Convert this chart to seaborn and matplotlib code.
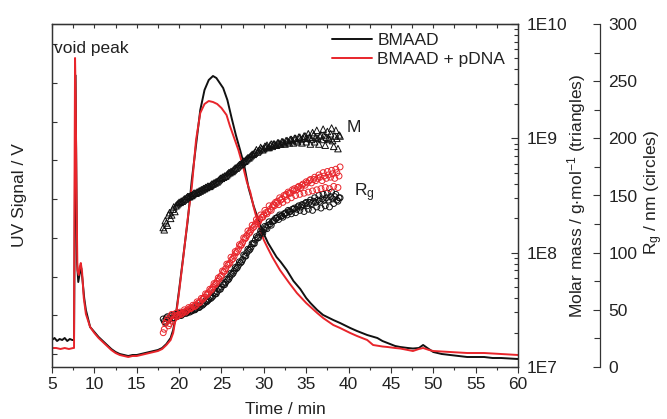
import numpy as np
import pandas as pd
import matplotlib
matplotlib.use("Agg")
import matplotlib.pyplot as plt
import seaborn as sns
from matplotlib.ticker import MultipleLocator, FixedLocator, FuncFormatter, LogLocator, NullFormatter

# ---------------- data ----------------
# UV signal (arbitrary units), BMAAD
uv_black_t = [5.0, 5.3, 5.6, 5.9, 6.2, 6.5, 6.8, 7.1, 7.4, 7.6, 7.7, 7.75, 7.85, 7.95, 8.1, 8.3, 8.45,
              8.6, 8.8, 9.0, 9.5, 10.0, 10.5, 11.0, 11.5, 12.0, 12.5, 13.0, 13.5, 14.0, 14.5, 15.0,
              15.5, 16.0, 16.5, 17.0, 17.5, 18.0, 18.5, 19.0, 19.3, 19.6, 20.0, 20.5, 21.0, 21.5,
              22.0, 22.5, 23.0, 23.5, 24.0, 24.4, 24.8, 25.2, 25.7, 26.2, 26.7, 27.2, 27.7, 28.2,
              28.8, 29.4, 30.0, 30.5, 31.0, 31.5, 32.0, 32.7, 33.5, 34.3, 35.0, 35.5, 36.3, 37.0,
              38.2, 39.0, 40.2, 41.0, 42.2, 43.0, 43.4, 44.0, 44.6, 45.5, 46.1, 47.0, 47.6, 48.3,
              48.8, 49.3, 50.0, 51.0, 52.0, 53.0, 54.0, 55.0, 56.0, 57.0, 58.0, 59.0, 60.0]
uv_black = [14, 16, 13, 15, 14, 16, 13, 15, 14, 14, 154, 279, 204, 92, 72, 82, 86,
            74, 56, 44, 27, 22, 17, 13, 9, 5, 2, 0, -1, -2, -1, -1,
            0, 1, 2, 3, 4, 6, 10, 16, 24, 38, 64, 98, 132, 174,
            209, 244, 264, 274, 278, 276, 271, 266, 254, 236, 219, 204, 188, 166,
            148, 133, 120, 111, 104, 97, 92, 84, 73, 65, 56, 51, 44, 39,
            34, 31, 26, 23, 19, 17, 16, 13, 11, 8, 7, 6, 5.5, 6,
            9, 6, 2, 0, -1, -2, -3, -3, -3, -4, -4, -4.5, -5]

# UV signal, BMAAD + pDNA
uv_red_t = [5.0, 5.5, 6.0, 6.5, 7.0, 7.5, 7.6, 7.65, 7.72, 7.8, 7.9, 8.0, 8.15, 8.3, 8.4, 8.55,
            8.75, 9.0, 9.5, 10.0, 10.5, 11.0, 11.5, 12.0, 12.5, 13.0, 13.5, 14.0, 14.5, 15.0,
            15.5, 16.0, 16.5, 17.0, 17.5, 18.0, 18.5, 19.0, 19.3, 19.6, 20.0, 20.5, 21.0, 21.5,
            22.0, 22.5, 23.0, 23.5, 24.0, 24.5, 25.0, 25.6, 26.0, 26.5, 27.0, 27.5, 28.0, 28.4,
            28.8, 29.4, 30.0, 30.4, 31.0, 31.9, 33.0, 33.9, 35.0, 36.3, 37.0, 38.2, 39.0, 40.2,
            41.0, 42.2, 42.9, 44.0, 44.6, 45.5, 46.1, 47.0, 47.6, 48.3, 48.8, 49.5, 50.0, 51.0,
            52.0, 54.0, 56.0, 58.0, 60.0]
uv_red = [6, 6, 5, 6, 5, 6, 6, 154, 296, 254, 154, 84, 79, 88, 91, 82,
          56, 40, 27, 21, 16, 12, 8, 4, 1, -1, -2, -3, -2, -2,
          -1, 0, 1, 2, 3, 5, 9, 14, 21, 36, 62, 97, 134, 167,
          214, 241, 250, 253, 252, 250, 246, 239, 228, 216, 204, 189, 172, 162,
          147, 128, 114, 107, 97, 84, 71, 61, 51, 41, 36, 29, 26, 21,
          18, 14, 9, 7.5, 7, 6, 5.5, 4, 3, 5, 6, 4, 3, 2.5,
          2, 1, 1, 0, -1]

# light-scattering results (elution time in min), two interleaved read-outs
ls_t = [18.25, 18.5, 18.75, 19.0, 19.25, 19.5, 19.75, 20.0, 20.25, 20.5, 20.75, 21.0,
        21.25, 21.5, 21.75, 22.0, 22.25, 22.5, 22.75, 23.0, 23.25, 23.5, 23.75, 24.0,
        24.25, 24.5, 24.75, 25.0, 25.25, 25.5, 25.75, 26.0, 26.25, 26.5, 26.75, 27.0,
        27.25, 27.5, 27.75, 28.0, 28.25, 28.5, 28.75, 29.0, 29.25, 29.5, 29.75, 30.0,
        30.25, 30.5, 30.75, 31.0, 31.25, 31.5, 31.75, 32.0, 32.25, 32.5, 32.75, 33.0,
        33.25, 33.5, 33.75, 34.0, 34.25, 34.5, 34.75, 35.0, 35.25, 35.5, 35.75, 36.0,
        36.25, 36.5, 36.75, 37.0, 37.25, 37.5, 37.75, 38.0, 38.25, 38.5, 38.75, 39.0]
ls_t2 = [18.125, 18.375, 18.625, 18.875, 19.125, 19.375, 19.625, 19.875, 20.125, 20.375,
         20.625, 20.875, 21.125, 21.375, 21.625, 21.875, 22.125, 22.375, 22.625, 22.875,
         23.125, 23.375, 23.625, 23.875, 24.125, 24.375, 24.625, 24.875, 25.125, 25.375,
         25.625, 25.875, 26.125, 26.375, 26.625, 26.875, 27.125, 27.375, 27.625, 27.875,
         28.125, 28.375, 28.625, 28.875, 29.125, 29.375, 29.625, 29.875, 30.125, 30.375,
         30.625, 30.875, 31.125, 31.375, 31.625, 31.875, 32.125, 32.375, 32.625, 32.875,
         33.125, 33.375, 33.625, 33.875, 34.125, 34.375, 34.625, 34.875, 35.125, 35.375,
         35.625, 35.875, 36.125, 36.375, 36.625, 36.875, 37.125, 37.375, 37.625, 37.875,
         38.125, 38.375, 38.625, 38.875]

# log10 of molar mass, BMAAD (triangles)
logM_black = [8.20, 8.26, 8.33, 8.30, 8.38, 8.36, 8.42, 8.44, 8.45, 8.46, 8.47, 8.49,
              8.49, 8.50, 8.52, 8.52, 8.53, 8.54, 8.55, 8.56, 8.57, 8.58, 8.59, 8.60,
              8.61, 8.62, 8.64, 8.65, 8.66, 8.67, 8.69, 8.70, 8.71, 8.73, 8.74, 8.76,
              8.77, 8.79, 8.80, 8.82, 8.83, 8.85, 8.86, 8.88, 8.88, 8.90, 8.91, 8.91,
              8.93, 8.92, 8.94, 8.93, 8.95, 8.94, 8.96, 8.95, 8.97, 8.95, 8.98, 8.96,
              8.99, 8.96, 9.00, 8.97, 9.01, 8.96, 9.02, 8.97, 9.04, 8.95, 9.05, 8.97,
              9.07, 8.95, 9.03, 9.08, 8.94, 9.06, 8.99, 9.09, 8.93, 9.07, 8.91, 9.02]
logM_black2 = [8.22, 8.28, 8.24, 8.35, 8.33, 8.40, 8.41, 8.43, 8.44, 8.45,
               8.47, 8.48, 8.49, 8.50, 8.51, 8.52, 8.53, 8.54, 8.55, 8.56,
               8.57, 8.58, 8.58, 8.60, 8.61, 8.62, 8.63, 8.65, 8.66, 8.67,
               8.68, 8.70, 8.71, 8.72, 8.74, 8.75, 8.77, 8.78, 8.80, 8.81,
               8.83, 8.84, 8.86, 8.87, 8.90, 8.89, 8.92, 8.90, 8.93, 8.94,
               8.92, 8.95, 8.95, 8.94, 8.96, 8.95, 8.97, 8.96, 8.98, 8.97,
               8.99, 8.98, 9.00, 8.98, 9.01, 8.99, 9.00, 9.02, 9.00, 9.01,
               8.99, 9.03, 9.01, 9.00, 9.02, 8.99, 9.03, 9.01, 9.00, 9.04,
               8.98, 9.02, 9.00, 9.03]

# radius of gyration / nm (circles)
rg_black = [40, 43, 41, 44, 43, 45, 44, 46, 45, 47, 47, 48,
            48, 49, 50, 51, 52, 53, 54, 56, 57, 59, 60, 62,
            64, 66, 68, 70, 72, 74, 76, 79, 81, 84, 86, 89,
            91, 94, 97, 100, 102, 105, 108, 111, 113, 116, 118, 120,
            122, 124, 125, 127, 128, 130, 129, 132, 131, 134, 133, 136,
            134, 138, 135, 140, 137, 142, 136, 144, 138, 146, 137, 148,
            140, 150, 139, 151, 141, 152, 140, 153, 143, 151, 145, 148]
rg_black2 = [42, 39, 44, 42, 45, 43, 46, 45, 47, 46,
             48, 47, 49, 49, 51, 50, 53, 52, 55, 55,
             58, 58, 61, 61, 65, 64, 69, 68, 73, 72,
             77, 77, 82, 82, 87, 87, 92, 92, 98, 97,
             103, 103, 108, 108, 114, 113, 119, 117, 123, 121,
             127, 124, 128, 130, 131, 133, 132, 134, 135, 137,
             136, 138, 139, 138, 141, 140, 142, 143, 141, 144,
             143, 145, 144, 146, 145, 147, 146, 148, 146, 149,
             147, 149, 146, 148]
rg_red = [33, 40, 36, 44, 40, 45, 44, 46, 46, 48, 48, 50,
          51, 52, 53, 54, 56, 57, 59, 61, 63, 65, 67, 70,
          72, 75, 77, 80, 83, 86, 89, 91, 94, 97, 100, 103,
          106, 109, 112, 115, 117, 120, 122, 125, 127, 129, 131, 133,
          135, 136, 138, 140, 141, 143, 142, 146, 144, 149, 146, 152,
          148, 154, 150, 157, 151, 159, 152, 162, 153, 164, 154, 166,
          155, 168, 156, 170, 157, 171, 156, 172, 158, 173, 157, 175]
rg_red2 = [30, 38, 42, 38, 46, 42, 47, 45, 48, 47,
           50, 49, 52, 51, 54, 53, 57, 56, 60, 60,
           64, 64, 68, 68, 73, 73, 78, 79, 84, 84,
           90, 90, 96, 95, 101, 101, 107, 107, 113, 113,
           119, 118, 124, 123, 129, 127, 133, 131, 137, 134,
           141, 137, 142, 144, 145, 148, 147, 150, 151, 153,
           152, 155, 156, 155, 158, 157, 160, 159, 161, 163,
           161, 164, 163, 165, 166, 163, 167, 165, 168, 166,
           169, 165, 170, 167]

x_ticks = [5, 10, 15, 20, 25, 30, 35, 40, 45, 50, 55, 60]
mass_ticks = [1e7, 1e8, 1e9, 1e10]
mass_labels = ["1E7", "1E8", "1E9", "1E10"]
rg_ticks = [0, 50, 100, 150, 200, 250, 300]
series_names = ["BMAAD", "BMAAD + pDNA"]

# ---------------- style ----------------
sns.set_style("ticks")
plt.rcParams["font.family"] = ["Liberation Sans", "DejaVu Sans"]
plt.rcParams["mathtext.default"] = "regular"
FS = 12.5
TXT = "#222222"
SPINE = "#333333"
BLACK = "#111111"
RED = "#e8252b"

fig = plt.figure(figsize=(6.67, 4.19), dpi=100)
ax = fig.add_axes([52 / 667, 52 / 419, 466 / 667, 343 / 419])

df_b = pd.DataFrame({"t": uv_black_t, "uv": uv_black})
df_r = pd.DataFrame({"t": uv_red_t, "uv": uv_red})
sns.lineplot(data=df_b, x="t", y="uv", ax=ax, color=BLACK, lw=1.4, sort=False,
             estimator=None, label=series_names[0])
sns.lineplot(data=df_r, x="t", y="uv", ax=ax, color=RED, lw=1.4, sort=False,
             estimator=None, label=series_names[1])

ax.set_xlim(5, 60)
ax.set_ylim(-13, 330)
ax.xaxis.set_major_locator(FixedLocator(x_ticks))
ax.xaxis.set_minor_locator(MultipleLocator(2.5))
ax.yaxis.set_major_locator(MultipleLocator(38.7))
ax.tick_params(axis="x", which="major", direction="out", length=4, width=0.8,
               color=SPINE, labelsize=FS, labelcolor=TXT, pad=3)
ax.tick_params(axis="x", which="minor", direction="out", length=2.5, width=0.8, color=SPINE)
ax.tick_params(axis="y", which="major", direction="in", length=3.5, width=0.8,
               color=SPINE, labelleft=False)
for s in ax.spines.values():
    s.set_color(SPINE)
    s.set_linewidth(0.9)

top = ax.secondary_xaxis("top")
top.xaxis.set_major_locator(FixedLocator(x_ticks))
top.xaxis.set_minor_locator(MultipleLocator(2.5))
top.tick_params(which="both", direction="in", length=3, width=0.8, color=SPINE,
                labeltop=False)
top.spines["top"].set_color(SPINE)

ax.set_xlabel("Time / min", fontsize=FS, color=TXT)
ax.xaxis.set_label_coords(0.5, -0.103)
ax.set_ylabel("UV Signal / V", fontsize=FS, color=TXT)
ax.yaxis.set_label_coords(-0.054, 0.5)

leg = ax.legend(loc="upper left", bbox_to_anchor=((332 - 52) / 466, (367 - 33) / 343),
                frameon=False, fontsize=FS, handlelength=2.3, handletextpad=0.3,
                borderpad=0, borderaxespad=0, labelspacing=0.2)
for t in leg.get_texts():
    t.set_color(TXT)

ax.text(5.25, 7.9 * 38.7, "void peak", fontsize=FS, color=TXT, ha="left", va="center")
ax.text(39.8, 5.84 * 38.7, "M", fontsize=FS, color=TXT, ha="left", va="center")
ax.text(40.7, 4.16 * 38.7, "R$_g$", fontsize=FS, color=TXT, ha="left", va="center")

# molar mass axis
axm = ax.twinx()
df_m = pd.DataFrame({"t": ls_t + ls_t2,
                     "M": [10 ** v for v in logM_black + logM_black2]})
sns.scatterplot(data=df_m, x="t", y="M", ax=axm, marker="^", s=22, facecolor="none",
                edgecolor=BLACK, linewidth=0.7, legend=False)
axm.set_yscale("log")
axm.set_ylim(1e7, 1e10)
axm.yaxis.set_major_locator(FixedLocator(mass_ticks))
axm.yaxis.set_major_formatter(FuncFormatter(lambda v, p: mass_labels[mass_ticks.index(v)]
                                            if v in mass_ticks else ""))
axm.yaxis.set_minor_locator(LogLocator(base=10, subs=np.arange(2, 10)))
axm.yaxis.set_minor_formatter(NullFormatter())
axm.tick_params(axis="y", which="major", direction="in", length=5, width=0.8, color=SPINE,
                labelsize=FS, labelcolor=TXT, pad=6)
axm.tick_params(axis="y", which="minor", direction="in", length=3, width=0.8, color=SPINE)
axm.set_xlabel("")
axm.set_ylabel("Molar mass / g$\\cdot$mol$^{-1}$ (triangles)", fontsize=FS, color=TXT)
axm.yaxis.set_label_coords(1.101, 0.5)
for s in axm.spines.values():
    s.set_color(SPINE)
    s.set_linewidth(0.9)

# radius of gyration axis
axr = ax.twinx()
axr.spines["right"].set_position(("axes", (600 - 52) / 466))
for k in ["top", "bottom", "left"]:
    axr.spines[k].set_visible(False)
axr.spines["right"].set_color(SPINE)
axr.spines["right"].set_linewidth(0.9)
df_rb = pd.DataFrame({"t": ls_t + ls_t2, "rg": rg_black + rg_black2})
df_rr = pd.DataFrame({"t": ls_t + ls_t2, "rg": rg_red + rg_red2})
sns.scatterplot(data=df_rb, x="t", y="rg", ax=axr, marker="o", s=18, facecolor="none",
                edgecolor=BLACK, linewidth=0.7, legend=False)
sns.scatterplot(data=df_rr, x="t", y="rg", ax=axr, marker="o", s=18, facecolor="none",
                edgecolor=RED, linewidth=0.7, legend=False)
axr.set_ylim(0, 300)
axr.yaxis.set_major_locator(FixedLocator(rg_ticks))
axr.yaxis.set_minor_locator(MultipleLocator(25))
axr.tick_params(axis="y", which="major", direction="in", length=5, width=0.8, color=SPINE,
                labelsize=FS, labelcolor=TXT, pad=6)
axr.tick_params(axis="y", which="minor", direction="in", length=4, width=0.8, color=SPINE)
axr.set_xlabel("")
axr.set_ylabel("R$_g$ / nm (circles)", fontsize=FS, color=TXT)
axr.yaxis.set_label_coords(1.268, 0.51)

fig.savefig("out.png", dpi=100)
